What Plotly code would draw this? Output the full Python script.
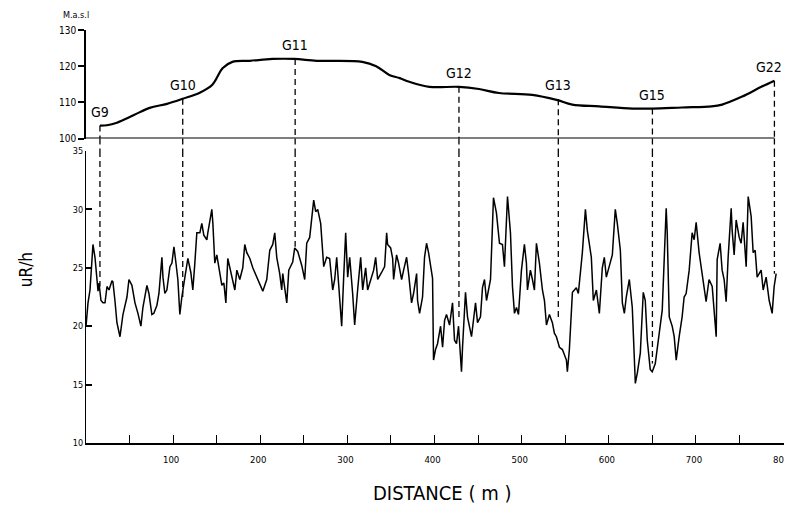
import plotly.graph_objects as go

# ---------------- data ----------------
# elevation profile (m a.s.l.) along the traverse
elev_dist = [16, 24, 35.5, 55, 73, 93, 111, 130.6, 145, 157, 168, 188, 214, 239, 265, 317,
             333, 348, 360, 371, 394, 428, 451, 474, 512, 540, 558, 589, 627, 650, 684,
             718, 730, 753, 775, 790]
elev_m = [103.6, 103.7, 104.4, 106.5, 108.5, 109.6, 111.0, 112.7, 114.9, 119.5, 121.2, 121.5,
          122.0, 122.0, 121.5, 121.2, 120.0, 117.6, 116.7, 115.7, 114.3, 114.3, 113.7, 112.6,
          112.1, 110.7, 109.4, 108.9, 108.3, 108.3, 108.6, 108.9, 109.4, 111.6, 114.3, 116.0]

# stations
station_names = ["G9", "G10", "G11", "G12", "G13", "G15", "G22"]
station_dist = [16, 111, 240, 428, 542, 650, 790]
station_elev = [103.6, 111.0, 122.0, 114.3, 110.9, 108.3, 116.0]
station_dose = [23.4, 22.2, 26.8, 20.5, 20.5, 16.8, 24.5]

# dose rate profile (uR/h)
dose_dist = [0, 2.3, 4.6, 8.0, 10.3, 12.6, 13.8, 14.9, 17.2, 19.5, 21.8, 24.1, 26.4, 29.8, 30.9,
             33.2, 35.5, 39.0, 41.3, 42.4, 47.0, 49.3, 52.7, 56.2, 59.6, 63.0, 65.3, 69.9, 72.2,
             75.6, 77.9, 81.4, 83.7, 87.1, 88.3, 90.5, 92.8, 96.3, 98.6, 100.9, 103.1, 105.4,
             107.7, 110.0, 113.5, 116.9, 120.3, 122.6, 124.9, 127.2, 130.7, 132.9, 135.2, 138.7,
             139.8, 144.4, 145.6, 147.8, 150.1, 152.4, 155.9, 158.2, 160.5, 162.7, 166.2, 168.5,
             170.8, 173.1, 176.5, 179.9, 182.2, 184.5,
             188.0, 191.4, 196.0, 199.4, 202.9, 207.4, 210.9, 214.3, 216.6, 218.9, 222.3, 224.6,
             225.8, 230.4, 232.7, 237.2, 239.5, 243.0, 247.6, 251.0, 253.3, 256.7, 261.3, 263.6,
             265.9, 269.3, 272.8, 276.2, 279.6, 283.1, 285.4, 287.7, 291.1, 293.4, 295.7, 298.0,
             300.3, 302.6, 306.0, 308.3, 311.7, 315.2, 317.5, 320.9, 323.2, 327.8, 330.1, 332.4,
             334.7, 339.2, 342.7, 345.0, 346.1, 349.6, 351.9, 353.0, 356.4, 358.7, 362.2, 364.5,
             367.9, 370.2, 373.6, 375.9, 379.4, 380.5, 382.8, 386.2, 388.5, 390.8,
             393.1, 397.7, 398.8, 401.1, 403.4, 406.9, 409.2, 411.5, 413.7, 417.2, 420.6, 422.9,
             425.2, 427.5, 430.9, 432.1, 435.5, 437.8, 442.4, 447.0, 449.3, 452.7, 455.0, 457.3,
             459.6, 461.9, 464.2, 467.6, 471.0, 474.5, 477.9, 480.2, 483.7, 487.1, 489.4, 491.7,
             494.0, 496.3, 499.7, 503.1, 505.4, 506.6, 510.0, 512.3, 514.6, 516.9, 520.3, 523.8,
             526.1, 528.4, 531.8, 535.2, 537.5, 539.8, 543.3, 546.7, 551.3, 552.4, 554.7, 558.2,
             562.7, 565.0, 569.6, 573.1, 575.3, 579.9, 582.2, 585.7, 589.1,
             592.5, 594.8, 597.1, 600.6, 604.0, 607.4, 609.7, 613.2, 615.5, 617.8, 620.0, 623.5,
             626.9, 630.4, 632.7, 636.1, 639.5, 641.8, 644.1, 647.5, 649.8, 653.3, 656.7, 661.3,
             665.8, 667.0, 669.3, 672.7, 675.0, 677.3, 680.7, 684.1, 686.4, 688.7, 692.2, 695.6,
             697.9, 700.2, 703.6, 707.1, 711.6, 715.0, 718.6, 723.2, 724.3, 727.7, 730.0, 732.3,
             734.6, 736.9, 740.4, 741.5, 743.8, 746.1, 749.6, 751.8, 754.1, 757.6, 759.9, 763.3,
             765.6, 767.9, 770.2, 774.8, 777.1, 780.5, 784.0, 787.4, 789.7, 792.0]
dose_uRh = [20.0, 22.0, 23.1, 27.0, 25.9, 23.7, 23.0, 23.7, 22.2, 22.0, 22.0, 23.4, 23.1, 23.9, 23.8,
            22.2, 20.3, 19.1, 20.8, 21.0, 22.5, 24.0, 23.5, 22.0, 21.1, 20.0, 21.6, 23.5, 22.8,
            21.0, 21.1, 21.8, 22.8, 25.9, 24.2, 22.8, 23.1, 25.1, 25.4, 26.8, 25.5, 24.0,
            21.0, 22.5, 24.2, 25.8, 24.6, 23.1, 25.4, 28.0, 28.0, 28.8, 27.8, 27.4,
            28.0, 30.0, 28.8, 25.4, 26.1, 25.1, 23.5, 23.7, 22.0, 25.8, 24.6, 24.0,
            23.1, 24.8, 24.0, 25.0, 27.0, 26.3,
            25.8, 25.0, 24.2, 23.7, 23.0, 24.0, 26.5, 27.0, 28.0, 25.9, 24.5, 23.1,
            24.5, 22.0, 24.8, 25.5, 26.7, 26.4, 25.2, 24.0, 27.1, 27.6, 30.8, 29.8,
            30.0, 28.8, 25.1, 25.9, 25.8, 23.1, 24.0, 25.9, 22.2, 20.0, 24.2, 28.0,
            24.2, 25.9, 22.8, 20.1, 23.1, 25.9, 23.1, 25.0, 23.1, 24.2, 24.8, 25.9,
            24.0, 24.6, 25.1, 28.0, 27.0, 26.7, 25.8, 24.0, 26.1, 25.4, 24.0, 24.8,
            25.9, 24.5, 22.0, 22.8, 24.5, 22.2, 21.1, 22.5, 25.9, 27.1,
            26.3, 24.1, 17.1, 18.0, 18.5, 20.0, 18.2, 20.5, 21.0, 20.1, 22.0, 18.8,
            18.5, 20.0, 16.1, 18.2, 22.9, 20.8, 19.1, 22.0, 20.3, 20.8, 23.3, 24.0,
            22.2, 23.1, 24.0, 31.0, 29.7, 27.1, 27.0, 25.1, 31.1, 28.0, 23.4, 21.1,
            21.6, 21.0, 24.8, 27.0, 25.4, 23.1, 24.8, 24.0, 23.1, 27.1, 25.4, 23.1,
            22.2, 20.1, 21.0, 20.3, 19.4, 19.1, 18.2, 18.0, 17.1, 16.1, 18.0, 22.9,
            23.3, 22.8, 26.3, 30.0, 28.2, 25.9, 22.2, 23.1, 21.1,
            25.0, 25.9, 24.2, 25.1, 26.1, 30.0, 28.8, 26.5, 22.0, 21.1, 22.5, 24.0,
            21.6, 15.1, 16.0, 17.7, 22.9, 22.2, 18.8, 16.3, 16.1, 16.8, 18.8, 21.4,
            30.1, 28.0, 20.8, 20.0, 19.1, 17.1, 19.1, 20.8, 22.5, 22.8, 24.8, 28.0,
            27.4, 28.9, 26.3, 24.5, 22.1, 24.0, 23.4, 19.1, 25.7, 27.1, 24.8, 24.0,
            22.1, 25.9, 30.1, 28.2, 26.1, 29.1, 27.6, 27.1, 28.9, 25.1, 31.1, 29.4,
            26.3, 26.5, 24.2, 24.8, 23.1, 24.2, 22.2, 21.1, 23.4, 24.5]

x_tickvals = [50, 100, 150, 200, 250, 300, 350, 400, 450, 500, 550, 600, 650, 700, 750, 800]
x_ticktext = ["", "100", "", "200", "", "300", "", "400", "", "500", "", "600", "", "700", "", "800"]
dose_ticks = [10, 15, 20, 25, 30, 35]
elev_ticks = [100, 110, 120, 130]

# ---------------- figure ----------------
FONT = "DejaVu Sans Condensed, Liberation Sans Narrow, DejaVu Sans, sans-serif"
BOT_TOP = 0.707
TOP_BOT = 0.737

fig = go.Figure()

fig.add_trace(go.Scatter(x=dose_dist, y=dose_uRh, mode="lines",
                         line=dict(color="black", width=1.5), xaxis="x", yaxis="y",
                         showlegend=False, hoverinfo="skip", cliponaxis=False))
fig.add_trace(go.Scatter(x=elev_dist, y=elev_m, mode="lines", line_shape="spline",
                         line=dict(color="black", width=2.2), xaxis="x2", yaxis="y2",
                         showlegend=False, hoverinfo="skip"))

shapes = []
# baseline of the elevation panel
shapes.append(dict(type="line", xref="x2", yref="y2", x0=0, x1=station_dist[-1], y0=100, y1=100,
                   line=dict(color="black", width=2)))
dash = dict(color="black", width=1.3, dash="6px,4px")
for d, e, v in zip(station_dist, station_elev, station_dose):
    shapes.append(dict(type="line", xref="x2", yref="y2", x0=d, x1=d, y0=e, y1=100, line=dash))
    shapes.append(dict(type="line", xref="x", yref="paper", x0=d, x1=d, y0=TOP_BOT, y1=BOT_TOP, line=dash))
    shapes.append(dict(type="line", xref="x", yref="y", x0=d, x1=d, y0=35, y1=v, line=dash))

annotations = []
for name, d, e in zip(station_names, station_dist, station_elev):
    annotations.append(dict(x=d, y=e, xref="x2", yref="y2", text=name, showarrow=False,
                            yanchor="bottom", yshift=4, xshift=(-5 if name == "G22" else 0),
                            font=dict(family=FONT, size=14, color="black")))
annotations.append(dict(x=0, y=130, xref="paper", yref="y2", text="M.a.s.l", showarrow=False,
                        xanchor="center", xshift=-10, yanchor="middle", yshift=15,
                        font=dict(family=FONT, size=9, color="black")))
annotations.append(dict(x=0, y=24.8, xref="paper", yref="y", text="uR/h", showarrow=False,
                        textangle=-90, xanchor="center", xshift=-60,
                        font=dict(family=FONT, size=17, color="black")))
annotations.append(dict(x=0.5, y=0, xref="paper", yref="paper", text="DISTANCE ( m )",
                        showarrow=False, yanchor="top", yshift=-36, xshift=7,
                        font=dict(family=FONT, size=20, color="black")))

# page body adds an 8px offset, so the figure is 8px smaller than the window
fig.update_layout(
    width=784, height=499,
    margin=dict(l=78, r=8, t=22, b=64, autoexpand=False),
    paper_bgcolor="white", plot_bgcolor="white",
    font=dict(family=FONT, color="black"),
    xaxis=dict(domain=[0, 1], range=[0, 801], showgrid=False, zeroline=False, automargin=False,
               showline=True, linecolor="black", linewidth=2,
               tickmode="array", tickvals=x_tickvals, ticktext=x_ticktext,
               ticks="inside", ticklen=8, tickwidth=1.2, tickcolor="black",
               ticklabelstandoff=7, ticklabelshift=-2,
               tickfont=dict(family=FONT, size=9.5, color="black")),
    yaxis=dict(domain=[0, BOT_TOP], range=[10, 35], showgrid=False, zeroline=False, automargin=False,
               showline=True, linecolor="black", linewidth=1.2,
               tickmode="array", tickvals=dose_ticks,
               ticks="inside", ticklen=6, tickwidth=1.5, tickcolor="black",
               tickfont=dict(family=FONT, size=9, color="black")),
    xaxis2=dict(domain=[0, 1], range=[0, 801], anchor="y2", visible=False, automargin=False),
    yaxis2=dict(domain=[TOP_BOT, 1], range=[100, 130], anchor="x2", showgrid=False, automargin=False,
                zeroline=False, showline=True, linecolor="black", linewidth=1.5,
                tickmode="array", tickvals=elev_ticks,
                ticks="outside", ticklen=6, tickwidth=1.5, tickcolor="black",
                tickfont=dict(family=FONT, size=10, color="black")),
    shapes=shapes, annotations=annotations,
)

fig.write_html("out.html")
